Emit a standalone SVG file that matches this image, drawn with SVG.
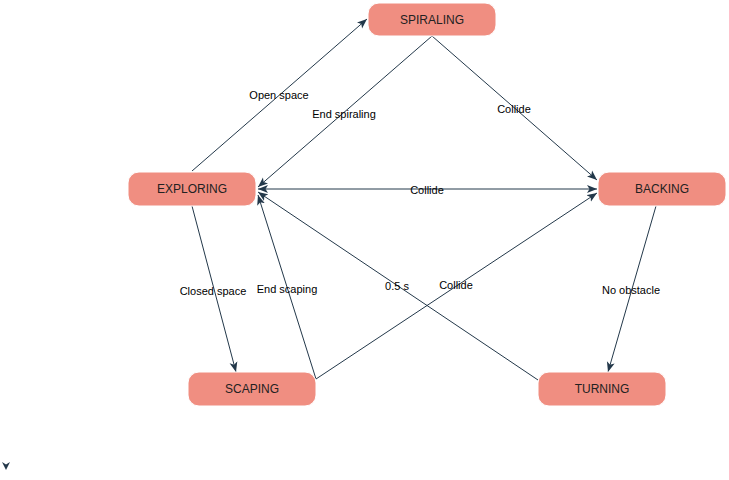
<svg xmlns="http://www.w3.org/2000/svg" width="729" height="480" viewBox="0 0 729 480">
<defs>
<style>
.node rect{fill:#F08E81;stroke:#ffffff;stroke-width:1}
.node text{font-family:"Liberation Sans",Arial,sans-serif;font-size:12px;fill:#222222;text-anchor:middle;dominant-baseline:central}
.edge{stroke:#23384a;stroke-width:1;fill:none;marker-end:url(#arr)}
.lbl{font-family:"Liberation Sans",Arial,sans-serif;font-size:11px;fill:#000000;text-anchor:middle;dominant-baseline:central}
</style>
<marker id="arr" markerUnits="userSpaceOnUse" markerWidth="11" markerHeight="9" refX="10" refY="4" orient="auto-start-reverse" viewBox="0 0 11 8">
<path d="M0,0 L10,4 L0,8 L2.5,4 Z" fill="#23384a"/>
</marker>
</defs>
<rect width="729" height="480" fill="#ffffff"/>
<g id="connectors">
<line class="edge" x1="192" y1="171" x2="367" y2="19"/>
<line class="edge" x1="432" y1="36" x2="258" y2="187"/>
<line class="edge" x1="432" y1="36" x2="597" y2="180"/>
<line class="edge" x1="258" y1="189" x2="597" y2="189" marker-start="url(#arr)"/>
<line class="edge" x1="192" y1="206" x2="236" y2="372"/>
<line class="edge" x1="316" y1="379" x2="258" y2="195"/>
<line class="edge" x1="316" y1="379" x2="597" y2="193"/>
<line class="edge" x1="538" y1="380" x2="258" y2="192"/>
<line class="edge" x1="656" y1="206" x2="608" y2="372"/>
<path d="M2,462 L6,470 L10,462 L6,464.5 Z" fill="#23384a"/>
<text class="lbl" x="279" y="95">Open space</text>
<text class="lbl" x="344" y="114">End spiraling</text>
<text class="lbl" x="514" y="109">Collide</text>
<text class="lbl" x="427" y="190">Collide</text>
<text class="lbl" x="213" y="291">Closed space</text>
<text class="lbl" x="287" y="289">End scaping</text>
<text class="lbl" x="397" y="286">0.5 s</text>
<text class="lbl" x="456" y="285">Collide</text>
<text class="lbl" x="631" y="290">No obstacle</text>
</g>
<g id="node-spiraling" class="node"><rect x="368" y="3" width="128" height="33" rx="11"/><text x="432" y="19.5">SPIRALING</text></g>
<g id="node-exploring" class="node"><rect x="128" y="172" width="128" height="34" rx="11"/><text x="192" y="189">EXPLORING</text></g>
<g id="node-backing" class="node"><rect x="598" y="172" width="128" height="34" rx="11"/><text x="662" y="189">BACKING</text></g>
<g id="node-scaping" class="node"><rect x="188" y="372" width="128" height="34" rx="11"/><text x="252" y="389">SCAPING</text></g>
<g id="node-turning" class="node"><rect x="538" y="372" width="128" height="34" rx="11"/><text x="602" y="389">TURNING</text></g>
</svg>
